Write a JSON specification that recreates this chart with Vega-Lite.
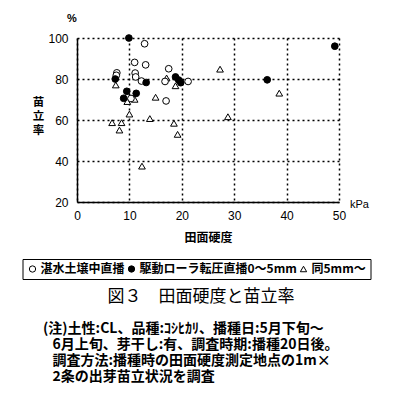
{
  "$schema": "https://vega.github.io/schema/vega-lite/v6.json",
  "background": "white",
  "padding": {"left": 22, "top": 13, "right": 5, "bottom": 5},
  "title": {
    "text": ["(注)土性:CL、品種:ｺｼﾋｶﾘ、播種日:5月下旬～", "\u200b\u00a0\u00a0\u00a06月上旬、芽干し:有、調査時期:播種20日後。", "\u200b\u00a0\u00a0\u00a0調査方法:播種時の田面硬度測定地点の1m×", "\u200b\u00a0\u00a0\u00a02条の出芽苗立状況を調査"],
    "orient": "bottom",
    "anchor": "start",
    "dx": 21,
    "offset": 17,
    "font": "Noto Sans CJK JP",
    "fontSize": 14,
    "fontWeight": "bold",
    "lineHeight": 16,
    "color": "black"
  },
  "config": {
    "view": {"stroke": null},
    "axis": {
      "labelFont": "Liberation Sans",
      "labelFontSize": 12,
      "labelColor": "black",
      "titleFont": "Noto Sans CJK JP",
      "titleFontSize": 12,
      "titleFontWeight": "bold",
      "titleColor": "black",
      "domainColor": "black",
      "domainWidth": 1.5,
      "ticks": false,
      "grid": true,
      "gridColor": "black",
      "gridDash": [2, 3],
      "gridWidth": 1.5,
      "gridOpacity": 1
    }
  },
  "vconcat": [
    {
      "width": 262,
      "height": 164,
      "title": {
        "text": "図３　田面硬度と苗立率",
        "orient": "bottom",
        "anchor": "middle",
        "offset": 46,
        "dx": -7,
        "font": "Noto Sans CJK JP",
        "fontSize": 17,
        "fontWeight": "normal",
        "color": "black"
      },
      "layer": [
        {
          "data": {
            "values": [
              {"kpa": 17.1, "rate": 80.5, "type": "同5mm～"},
              {"kpa": 27.3, "rate": 84.8, "type": "同5mm～"},
              {"kpa": 38.6, "rate": 73.1, "type": "同5mm～"},
              {"kpa": 28.8, "rate": 61.6, "type": "同5mm～"},
              {"kpa": 15.0, "rate": 71.1, "type": "同5mm～"},
              {"kpa": 13.9, "rate": 60.7, "type": "同5mm～"},
              {"kpa": 6.7, "rate": 58.7, "type": "同5mm～"},
              {"kpa": 8.5, "rate": 58.7, "type": "同5mm～"},
              {"kpa": 8.1, "rate": 55.1, "type": "同5mm～"},
              {"kpa": 10.0, "rate": 62.9, "type": "同5mm～"},
              {"kpa": 18.5, "rate": 58.4, "type": "同5mm～"},
              {"kpa": 19.2, "rate": 53.0, "type": "同5mm～"},
              {"kpa": 12.4, "rate": 37.5, "type": "同5mm～"},
              {"kpa": 18.8, "rate": 76.7, "type": "同5mm～"},
              {"kpa": 7.4, "rate": 77.1, "type": "同5mm～"},
              {"kpa": 11.0, "rate": 70.1, "type": "同5mm～"},
              {"kpa": 9.6, "rate": 69.0, "type": "同5mm～"},
              {"kpa": 7.6, "rate": 83.0, "type": "湛水土壌中直播"},
              {"kpa": 7.5, "rate": 81.8, "type": "湛水土壌中直播"},
              {"kpa": 12.9, "rate": 97.2, "type": "湛水土壌中直播"},
              {"kpa": 11.0, "rate": 88.1, "type": "湛水土壌中直播"},
              {"kpa": 13.1, "rate": 86.9, "type": "湛水土壌中直播"},
              {"kpa": 11.1, "rate": 82.9, "type": "湛水土壌中直播"},
              {"kpa": 11.2, "rate": 81.0, "type": "湛水土壌中直播"},
              {"kpa": 12.3, "rate": 79.0, "type": "湛水土壌中直播"},
              {"kpa": 17.5, "rate": 85.0, "type": "湛水土壌中直播"},
              {"kpa": 16.8, "rate": 78.8, "type": "湛水土壌中直播"},
              {"kpa": 21.2, "rate": 78.8, "type": "湛水土壌中直播"},
              {"kpa": 17.0, "rate": 69.3, "type": "湛水土壌中直播"},
              {"kpa": 10.3, "rate": 70.5, "type": "湛水土壌中直播"},
              {"kpa": 9.9, "rate": 100.0, "type": "駆動ローラ転圧直播0～5mm"},
              {"kpa": 49.2, "rate": 96.0, "type": "駆動ローラ転圧直播0～5mm"},
              {"kpa": 36.3, "rate": 79.6, "type": "駆動ローラ転圧直播0～5mm"},
              {"kpa": 7.3, "rate": 80.0, "type": "駆動ローラ転圧直播0～5mm"},
              {"kpa": 9.5, "rate": 74.0, "type": "駆動ローラ転圧直播0～5mm"},
              {"kpa": 8.9, "rate": 70.6, "type": "駆動ローラ転圧直播0～5mm"},
              {"kpa": 11.3, "rate": 73.0, "type": "駆動ローラ転圧直播0～5mm"},
              {"kpa": 13.2, "rate": 78.3, "type": "駆動ローラ転圧直播0～5mm"},
              {"kpa": 18.8, "rate": 81.0, "type": "駆動ローラ転圧直播0～5mm"},
              {"kpa": 19.4, "rate": 79.5, "type": "駆動ローラ転圧直播0～5mm"},
              {"kpa": 19.8, "rate": 78.2, "type": "駆動ローラ転圧直播0～5mm"}
            ]
          },
          "mark": {"type": "point", "filled": true, "opacity": 1, "stroke": "black", "strokeWidth": 1, "size": 45},
          "encoding": {
            "x": {
              "field": "kpa", "type": "quantitative",
              "scale": {"domain": [0, 50], "nice": false},
              "axis": {"values": [0, 10, 20, 30, 40, 50], "title": "田面硬度", "labelPadding": 8, "titlePadding": 11, "labelFlush": false}
            },
            "y": {
              "field": "rate", "type": "quantitative",
              "scale": {"domain": [20, 100], "nice": false, "zero": false},
              "axis": {"values": [20, 40, 60, 80, 100], "title": ["苗", "立", "率"], "titleAngle": 0, "titleAlign": "center", "titleBaseline": "top", "titleX": -39, "titleY": 58, "titleFontSize": 11.5, "titleLineHeight": 14, "labelPadding": 9, "labelFlush": false}
            },
            "shape": {
              "field": "type", "type": "nominal",
              "scale": {"domain": ["湛水土壌中直播", "駆動ローラ転圧直播0～5mm", "同5mm～"], "range": ["circle", "circle", "triangle-up"]},
              "legend": {
                "title": null, "orient": "none", "legendX": -54.5, "legendY": 221, "direction": "horizontal",
                "strokeColor": "black", "padding": 4, "symbolSize": 40, "symbolStrokeWidth": 1, "symbolStrokeColor": "black", "symbolOpacity": 1,
                "labelFont": "Noto Sans CJK JP", "labelFontSize": 12, "labelFontWeight": "bold", "labelColor": "black", "columnPadding": 0, "labelOffset": 2, "labelLimit": 300,
                "encode": {"symbols": {"update": {"stroke": {"value": "black"}, "strokeWidth": {"value": 1}, "opacity": {"value": 1}}}}
              }
            },
            "fill": {
              "field": "type", "type": "nominal",
              "scale": {"domain": ["湛水土壌中直播", "駆動ローラ転圧直播0～5mm", "同5mm～"], "range": ["white", "black", "white"]},
              "legend": {
                "title": null, "orient": "none", "legendX": -54.5, "legendY": 221, "direction": "horizontal",
                "strokeColor": "black", "padding": 4, "symbolSize": 40, "symbolStrokeWidth": 1, "symbolStrokeColor": "black", "symbolOpacity": 1,
                "labelFont": "Noto Sans CJK JP", "labelFontSize": 12, "labelFontWeight": "bold", "labelColor": "black", "columnPadding": 0, "labelOffset": 2, "labelLimit": 300,
                "encode": {"symbols": {"update": {"stroke": {"value": "black"}, "strokeWidth": {"value": 1}, "opacity": {"value": 1}}}}
              }
            }
          }
        },
        {
          "data": {"values": [{"kpa": 50, "rate": 20, "label": "kPa"}]},
          "mark": {"type": "text", "align": "left", "baseline": "middle", "dx": 11, "dy": 3, "font": "Liberation Sans", "fontSize": 11, "color": "black"},
          "encoding": {
            "x": {"field": "kpa", "type": "quantitative"},
            "y": {"field": "rate", "type": "quantitative"},
            "text": {"field": "label"}
          }
        },
        {
          "data": {"values": [{"kpa": 0, "rate": 100, "label": "%"}]},
          "mark": {"type": "text", "align": "center", "baseline": "middle", "dx": -5, "dy": -19, "font": "Liberation Sans", "fontSize": 11, "fontWeight": "bold", "color": "black"},
          "encoding": {
            "x": {"field": "kpa", "type": "quantitative"},
            "y": {"field": "rate", "type": "quantitative"},
            "text": {"field": "label"}
          }
        }
      ]
    }
  ]
}
